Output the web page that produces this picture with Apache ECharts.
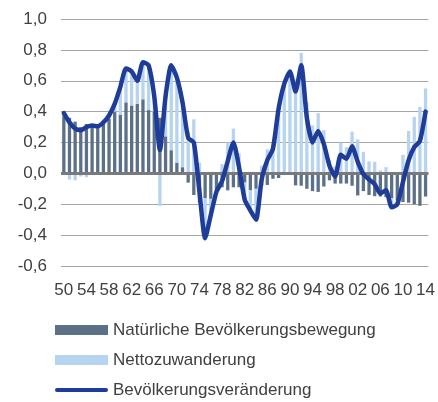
<!DOCTYPE html>
<html>
<head>
<meta charset="utf-8">
<script src="https://cdn.jsdelivr.net/npm/echarts@6/dist/echarts.min.js"></script>
<style>
  html, body { margin: 0; padding: 0; background: #fff; }
  #main { width: 438px; height: 402px; }
</style>
</head>
<body>
<div id="main"></div>
<script>
// Jahre 1950-2014, Beschriftung zweistellig
var years = [];
for (var y = 1950; y <= 2014; y++) years.push(String(y).slice(2));

// Natürliche Bevölkerungsbewegung (%)
var natuerlich = [
  0.37, 0.36, 0.335, 0.30, 0.32, 0.31, 0.31, 0.33, 0.355, 0.40,
  0.38, 0.46, 0.44, 0.45, 0.48, 0.41, 0.40, 0.36, 0.24, 0.15,
  0.07, 0.04, -0.06, -0.14, -0.19, -0.16, -0.165, -0.11, -0.09, -0.11,
  -0.09, -0.09, -0.06, -0.11, -0.10, -0.08, -0.075, -0.035, -0.03, -0.01,
  -0.01, -0.078, -0.08, -0.10, -0.115, -0.12, -0.085, -0.045, -0.066, -0.066,
  -0.066, -0.08, -0.143, -0.115, -0.14, -0.148, -0.15, -0.154, -0.16, -0.175,
  -0.186, -0.19, -0.20, -0.21, -0.15
];

// Nettozuwanderung (%)
var netto = [
  0.02, -0.04, -0.045, -0.02, -0.025, 0.005, 0.0, 0.005, 0.02, 0.05,
  0.18, 0.22, 0.22, 0.15, 0.24, 0.29, 0.10, -0.21, 0.26, 0.55,
  0.55, 0.42, 0.27, 0.35, 0.07, -0.26, -0.11, -0.01, 0.06, 0.20,
  0.29, 0.13, -0.11, -0.13, -0.20, 0.05, 0.155, 0.195, 0.45, 0.59,
  0.67, 0.61, 0.78, 0.46, 0.31, 0.39, 0.28, 0.085, 0.045, 0.20,
  0.17, 0.27, 0.22, 0.14, 0.078, 0.075, 0.02, 0.04, -0.06, -0.03,
  0.12, 0.275, 0.366, 0.43, 0.55
];

// Bevölkerungsveränderung (%)
var veraenderung = [
  0.39, 0.33, 0.29, 0.28, 0.30, 0.31, 0.305, 0.33, 0.375, 0.45,
  0.56, 0.68, 0.66, 0.60, 0.72, 0.70, 0.50, 0.15, 0.50, 0.70,
  0.62, 0.46, 0.23, 0.20, -0.12, -0.42, -0.27, -0.12, -0.05, 0.08,
  0.20, 0.04, -0.17, -0.24, -0.30, -0.04, 0.085, 0.16, 0.42, 0.58,
  0.66, 0.53, 0.70, 0.36, 0.20, 0.275, 0.19, 0.05, -0.02, 0.12,
  0.095, 0.175, 0.075, -0.005, -0.04, -0.07, -0.13, -0.11, -0.22, -0.20,
  -0.056, 0.085, 0.17, 0.21, 0.40
];

var font = 'Liberation Sans, Arial, sans-serif';
var textColor = '#404040';

var myChart = echarts.init(document.getElementById('main'));
var option = {
  animation: false,
  grid: { left: 61, right: 8, top: 19, bottom: 136 },
  legend: {
    orient: 'vertical',
    left: 55,
    top: 320,
    padding: 0,
    itemWidth: 53,
    itemHeight: 10,
    itemGap: 10,
    textStyle: { fontFamily: font, fontSize: 17, color: textColor, lineHeight: 20 },
    data: [
      { name: 'Natürliche Bevölkerungsbewegung', icon: 'rect' },
      { name: 'Nettozuwanderung', icon: 'rect' },
      { name: 'Bevölkerungsveränderung', icon: 'path://M2,0 L51,0 A2,2 0 0 1 51,4 L2,4 A2,2 0 0 1 2,0 Z' }
    ]
  },
  xAxis: {
    type: 'category',
    data: years,
    axisLine: { show: false },
    axisTick: { show: false },
    axisLabel: {
      interval: 3,
      margin: 16,
      fontFamily: font,
      fontSize: 17,
      color: textColor
    }
  },
  yAxis: {
    type: 'value',
    min: -0.6,
    max: 1.0,
    interval: 0.2,
    axisLine: { show: false },
    axisTick: { show: false },
    axisLabel: {
      margin: 14,
      fontFamily: font,
      fontSize: 17,
      color: textColor,
      formatter: function (v) { return v.toFixed(1).replace('.', ','); }
    },
    splitLine: { lineStyle: { color: '#a6a6a6', width: 1 } }
  },
  series: [
    {
      name: 'Natürliche Bevölkerungsbewegung',
      type: 'bar',
      stack: 'gesamt',
      barWidth: 3.3,
      itemStyle: { color: '#5c7087' },
      data: natuerlich
    },
    {
      name: 'Nettozuwanderung',
      type: 'bar',
      stack: 'gesamt',
      barWidth: 3.3,
      itemStyle: { color: '#b6d3f0' },
      data: netto,
      markLine: {
        silent: true,
        symbol: ['none', 'none'],
        label: { show: false },
        lineStyle: { color: '#7a7a7a', width: 3, type: 'solid' },
        data: [{ yAxis: 0 }]
      }
    },
    {
      name: 'Bevölkerungsveränderung',
      type: 'line',
      symbol: 'none',
      smooth: 0.2,
      z: 5,
      lineStyle: { color: '#1f3c98', width: 4.5, join: 'round', cap: 'round' },
      itemStyle: { color: '#1f3c98' },
      data: veraenderung
    }
  ]
};
myChart.setOption(option);
</script>
</body>
</html>
